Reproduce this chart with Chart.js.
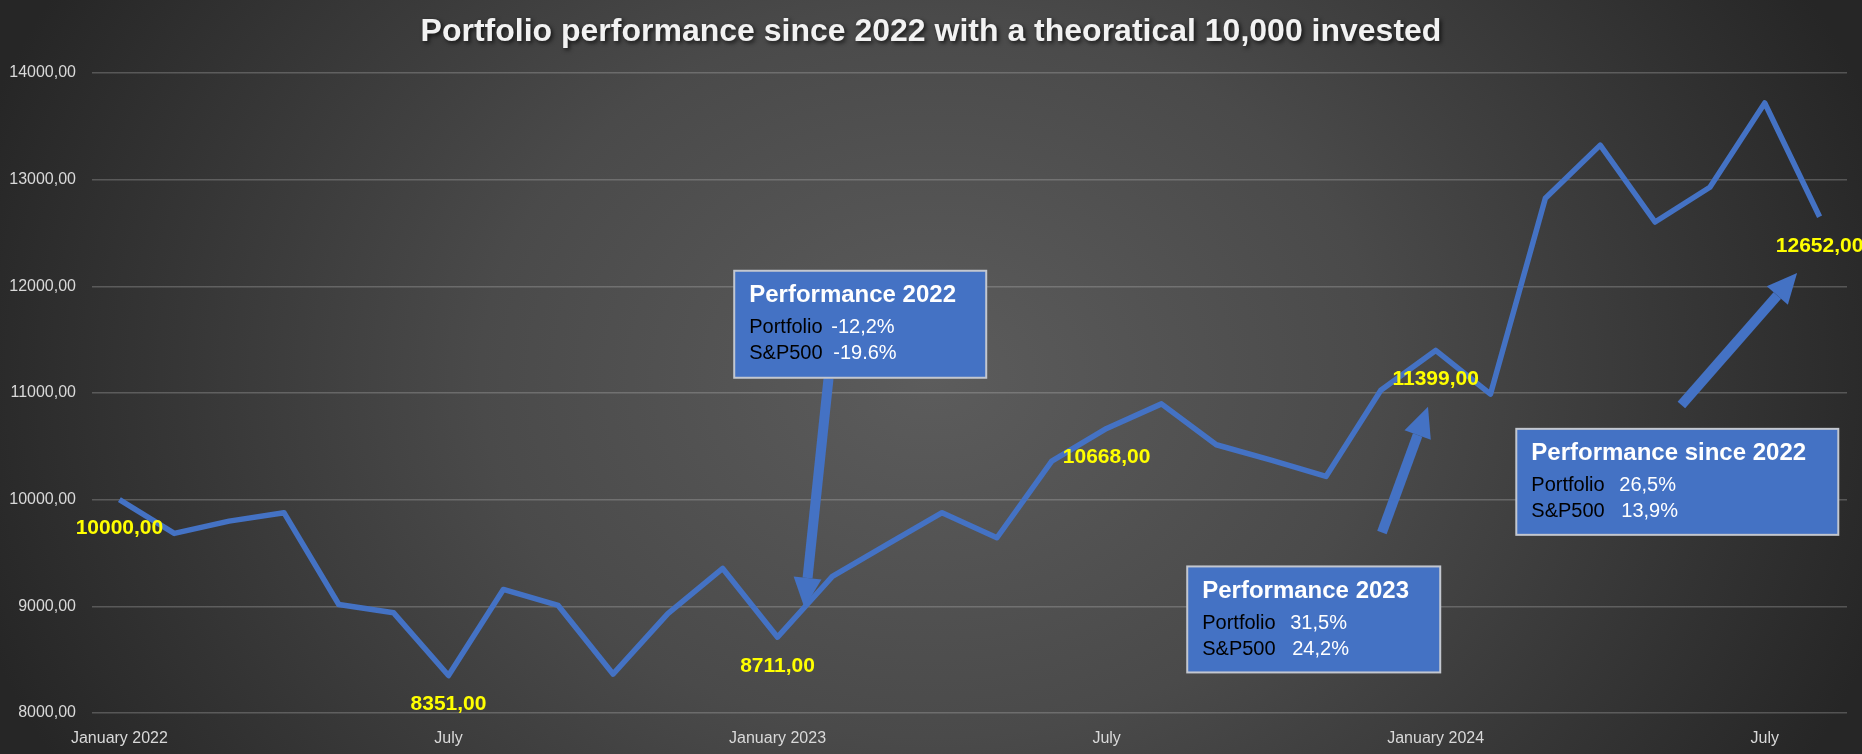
<!DOCTYPE html>
<html>
<head>
<meta charset="utf-8">
<title>Portfolio performance</title>
<script src="https://cdn.jsdelivr.net/npm/chart.js@4/dist/chart.umd.min.js"></script>
<style>
  html, body {
    margin: 0;
    padding: 0;
  }
  body {
    width: 1862px;
    height: 754px;
    overflow: hidden;
    background: radial-gradient(ellipse 1000px 800px at 50% 50%, #5c5c5c 0%, #4a4a4a 45%, #262626 100%);
  }
  #wrap {
    position: relative;
    width: 1862px;
    height: 754px;
  }
</style>
</head>
<body>
<div id="wrap"><canvas id="perfChart"></canvas></div>
<script>
// Monthly portfolio value, January 2022 - August 2024
const months = [
  'January 2022', 'February', 'March', 'April', 'May', 'June', 'July', 'August', 'September', 'October', 'November', 'December',
  'January 2023', 'February', 'March', 'April', 'May', 'June', 'July', 'August', 'September', 'October', 'November', 'December',
  'January 2024', 'February', 'March', 'April', 'May', 'June', 'July', 'August'
];
const portfolioValues = [
  10000, 9684, 9799, 9878, 9017, 8939, 8351, 9158, 9008, 8365, 8932, 9355,
  8711, 9280, 9580, 9878, 9643, 10362, 10668, 10898, 10515, 10370, 10218, 11025,
  11399, 10990, 12826, 13324, 12603, 12929, 13719, 12652
];
const labeledPoints = [0, 6, 12, 18, 24, 31];
const yTicks = [8000, 9000, 10000, 11000, 12000, 13000, 14000];
const tickEvery = 6;

const noteTitles = ['Performance 2022', 'Performance 2023', 'Performance since 2022'];
const notePortfolio = ['-12,2%', '31,5%', '26,5%'];
const noteSP500 = ['-19.6%', '24,2%', '13,9%'];

const chartTitle = 'Portfolio performance since 2022 with a theoratical 10,000 invested';

const FONT = "'Liberation Sans', Arial, sans-serif";
const BLUE = '#4472c4';

function fmt(v) {
  return v.toFixed(2).replace('.', ',');
}

// where the callout boxes and arrows sit, in (month index, value) space
const noteLayout = [
  { box: [11.21, 12146], w: 252, h: 107, valX: 97, arrow: [[12.93, 11139], [12.49, 8986]] },
  { box: [19.47, 9374], w: 253, h: 106, valX: 103, arrow: [[23.02, 9693], [23.86, 10870]] },
  { box: [25.47, 10664], w: 322, h: 106, valX: 103, arrow: [[28.48, 10887], [30.59, 12125]] }
];

function drawArrow(ctx, x1, y1, x2, y2) {
  const ang = Math.atan2(y2 - y1, x2 - x1);
  const headLen = 30, headHalf = 14;
  const bx = x2 - Math.cos(ang) * headLen;
  const by = y2 - Math.sin(ang) * headLen;
  ctx.save();
  ctx.strokeStyle = BLUE;
  ctx.fillStyle = BLUE;
  ctx.lineWidth = 10;
  ctx.beginPath();
  ctx.moveTo(x1, y1);
  ctx.lineTo(bx, by);
  ctx.stroke();
  ctx.beginPath();
  ctx.moveTo(x2, y2);
  ctx.lineTo(bx + Math.sin(ang) * headHalf, by - Math.cos(ang) * headHalf);
  ctx.lineTo(bx - Math.sin(ang) * headHalf, by + Math.cos(ang) * headHalf);
  ctx.closePath();
  ctx.fill();
  ctx.restore();
}

const overlay = {
  id: 'overlay',
  afterDatasetsDraw(chart) {
    const { ctx, scales: { x, y } } = chart;

    // yellow value labels under selected points
    ctx.save();
    ctx.font = 'bold 21px ' + FONT;
    ctx.fillStyle = '#ffff00';
    ctx.textAlign = 'center';
    ctx.textBaseline = 'middle';
    labeledPoints.forEach(i => {
      const px = x.getPixelForValue(i);
      const py = y.getPixelForValue(portfolioValues[i]);
      ctx.fillText(fmt(portfolioValues[i]), px, py + 29);
    });
    ctx.restore();

    // arrows, then boxes on top
    noteLayout.forEach(n => {
      const [a, b] = n.arrow;
      drawArrow(ctx, x.getPixelForValue(a[0]), y.getPixelForValue(a[1]),
        x.getPixelForValue(b[0]), y.getPixelForValue(b[1]));
    });

    noteLayout.forEach((n, k) => {
      const left = x.getPixelForValue(n.box[0]);
      const top = y.getPixelForValue(n.box[1]);
      ctx.save();
      ctx.fillStyle = BLUE;
      ctx.fillRect(left, top, n.w, n.h);
      ctx.strokeStyle = '#c3c7cf';
      ctx.lineWidth = 2;
      ctx.strokeRect(left, top, n.w, n.h);

      ctx.textAlign = 'left';
      ctx.textBaseline = 'middle';
      ctx.font = 'bold 24px ' + FONT;
      ctx.fillStyle = '#ffffff';
      ctx.fillText(noteTitles[k], left + 15, top + 25);

      ctx.font = '20px ' + FONT;
      ctx.fillStyle = '#000000';
      ctx.fillText('Portfolio', left + 15, top + 57);
      ctx.fillText('S&P500', left + 15, top + 83);
      ctx.fillStyle = '#ffffff';
      ctx.fillText(notePortfolio[k], left + n.valX, top + 57);
      ctx.fillText(noteSP500[k], left + n.valX + 2, top + 83);
      ctx.restore();
    });
  },
  afterDraw(chart) {
    const { ctx } = chart;
    ctx.save();
    ctx.font = 'bold 32px ' + FONT;
    ctx.fillStyle = '#f2f2f2';
    ctx.textAlign = 'center';
    ctx.textBaseline = 'middle';
    ctx.shadowColor = 'rgba(0,0,0,0.7)';
    ctx.shadowBlur = 4;
    ctx.shadowOffsetX = 2;
    ctx.shadowOffsetY = 2;
    ctx.fillText(chartTitle, chart.width / 2, 32);
    ctx.restore();
  }
};

const chart = new Chart(document.getElementById('perfChart'), {
  type: 'line',
  data: {
    labels: months,
    datasets: [{
      label: 'Portfolio',
      data: portfolioValues,
      borderColor: BLUE,
      borderWidth: 5.5,
      borderJoinStyle: 'round',
      pointRadius: 0,
      tension: 0,
      fill: false
    }]
  },
  options: {
    responsive: true,
    maintainAspectRatio: false,
    animation: false,
    layout: { padding: { top: 73, right: 15, bottom: 0, left: 0 } },
    plugins: {
      legend: { display: false },
      tooltip: { enabled: false }
    },
    scales: {
      x: {
        offset: true,
        grid: { display: false },
        border: { display: false },
        afterFit(scale) { scale.height = 41; },
        ticks: {
          autoSkip: false,
          maxRotation: 0,
          padding: 8,
          color: '#d9d9d9',
          font: { family: FONT, size: 16 },
          callback: (val, idx) => (idx % tickEvery === 0 ? months[idx] : '')
        }
      },
      y: {
        min: yTicks[0],
        max: yTicks[yTicks.length - 1],
        afterFit(scale) { scale.width = 92; },
        afterBuildTicks(scale) { scale.ticks = yTicks.map(v => ({ value: v })); },
        grid: { color: 'rgba(200,200,200,0.28)', lineWidth: 1.5, drawTicks: false },
        border: { display: false },
        ticks: {
          padding: 16,
          color: '#d9d9d9',
          font: { family: FONT, size: 16 },
          callback: v => fmt(v)
        }
      }
    }
  },
  plugins: [overlay]
});
</script>
</body>
</html>
